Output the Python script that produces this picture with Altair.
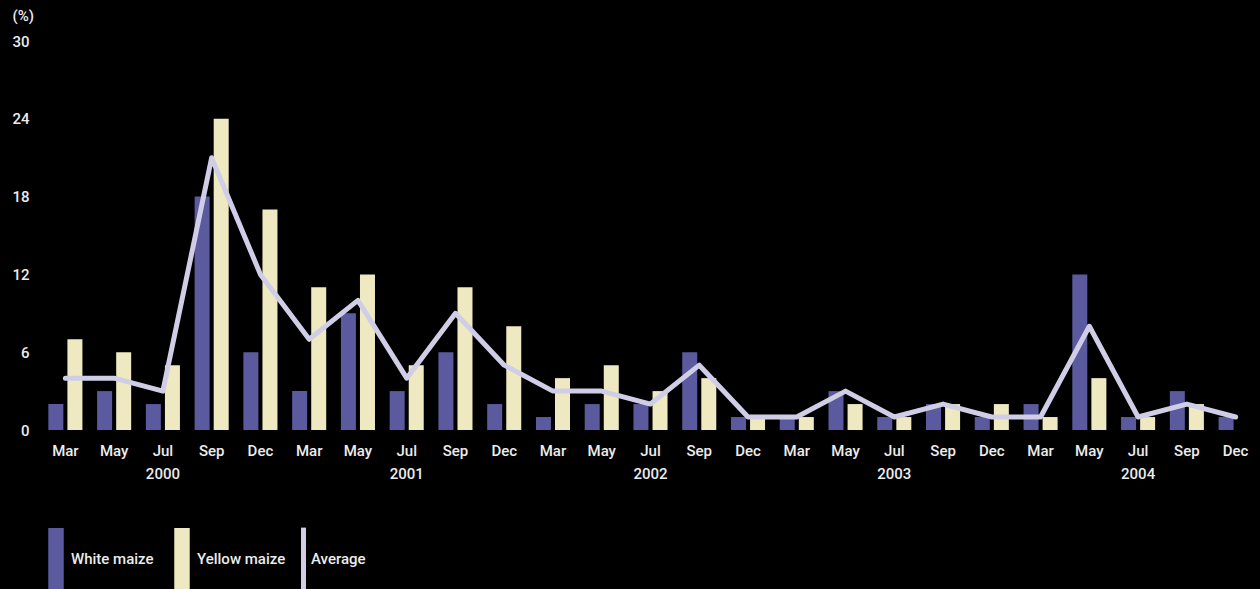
import altair as alt
import pandas as pd

months = ["Mar", "May", "Jul", "Sep", "Dec"] * 5
years = ["2000"] * 5 + ["2001"] * 5 + ["2002"] * 5 + ["2003"] * 5 + ["2004"] * 5
white_maize = [2, 3, 2, 18, 6, 3, 9, 3, 6, 2, 1, 2, 2, 6, 1, 1, 3, 1, 2, 1, 2, 12, 1, 3, 1]
yellow_maize = [7, 6, 5, 24, 17, 11, 12, 5, 11, 8, 4, 5, 3, 4, 1, 1, 2, 1, 2, 2, 1, 4, 1, 2, 0]
average = [4, 4, 3, 21, 12, 7, 10, 4, 9, 5, 3, 3, 2, 5, 1, 1, 3, 1, 2, 1, 1, 8, 1, 2, 1]
year_labels = ["2000", "2001", "2002", "2003", "2004"]
y_ticks = [0, 6, 12, 18, 24, 30]

periods = [f"{m} {y}" for m, y in zip(months, years)]
df = pd.DataFrame({
    "period": periods,
    "White maize": white_maize,
    "Yellow maize": yellow_maize,
    "avg": average,
    "series": ["Average"] * len(periods),
})
year_df = pd.DataFrame({"period": [f"Jul {y}" for y in year_labels], "year": year_labels})

FONT = "Roboto"
FW = 500
FS = 15
TXT = "#ececec"
W, H = 1219, 389

x_scale = alt.Scale(domain=periods, paddingInner=0.30, paddingOuter=0.15)
x_axis = alt.Axis(
    title=None, labelExpr="split(datum.value, ' ')[0]", labelAngle=0,
    ticks=False, domain=False, grid=False, labelPadding=13,
    labelFont=FONT, labelFontSize=FS, labelFontWeight=FW, labelColor=TXT,
)
y_scale = alt.Scale(domain=[0, 30], nice=False)

base = alt.Chart(df)

bars = base.transform_fold(
    ["White maize", "Yellow maize"], as_=["key", "value"]
).mark_bar(size=15).encode(
    x=alt.X("period:N", scale=x_scale, axis=x_axis, sort=periods),
    xOffset=alt.XOffset("key:N", scale=alt.Scale(domain=["White maize", "Yellow maize"], paddingInner=0.21)),
    y=alt.Y("value:Q", scale=y_scale, axis=alt.Axis(
        values=y_ticks, title="(%)", titleAngle=0, titleX=-29, titleY=-26,
        titleAlign="left", titleBaseline="middle", titleFont=FONT, titleFontSize=FS,
        titleFontWeight=FW, titleColor=TXT,
        ticks=False, domain=False, grid=False, labelPadding=12,
        labelFont=FONT, labelFontSize=FS, labelFontWeight=FW, labelColor=TXT,
    )),
    color=alt.Color("key:N", scale=alt.Scale(domain=["White maize", "Yellow maize"],
                                             range=["#5b5a9e", "#efe9c1"]),
                    legend=alt.Legend(
                        title=None, orient="none", legendX=7, legendY=510, direction="horizontal",
                        symbolType="M-1,-4 L1,-4 L1,4 L-1,4 Z", symbolSize=240,
                        symbolStrokeWidth=0, symbolOpacity=1, labelOffset=7, columnPadding=20,
                        labelFont=FONT, labelFontSize=FS, labelFontWeight=FW, labelColor=TXT,
                        padding=0,
                    )),
)

line = base.mark_line(strokeWidth=5, strokeCap="round", strokeJoin="round").encode(
    x=alt.X("period:N", scale=x_scale, sort=periods),
    y=alt.Y("avg:Q", scale=y_scale),
    stroke=alt.Stroke("series:N", scale=alt.Scale(domain=["Average"], range=["#d0cee6"]),
                      legend=alt.Legend(
                          title=None, orient="none", legendX=255, legendY=510,
                          symbolType="M0,-10.3 L0,10.3", symbolSize=36, symbolStrokeWidth=5,
                          symbolFillColor="transparent", labelOffset=0,
                          labelFont=FONT, labelFontSize=FS, labelFontWeight=FW, labelColor=TXT,
                          padding=0,
                      )),
)

year_text = alt.Chart(year_df).mark_text(
    font=FONT, fontSize=FS, fontWeight=FW, color=TXT, baseline="middle"
).encode(
    x=alt.X("period:N", scale=x_scale, sort=periods),
    y=alt.value(H + 44),
    text="year:N",
)

chart = alt.layer(bars, line, year_text).properties(
    width=W, height=H,
    padding={"left": 41, "top": 41, "right": 0, "bottom": 159},
    autosize=alt.AutoSizeParams(type="none"),
    background="black",
).configure_view(stroke=None)

chart.save("out.html", embed_options={"renderer": "svg", "actions": False})
